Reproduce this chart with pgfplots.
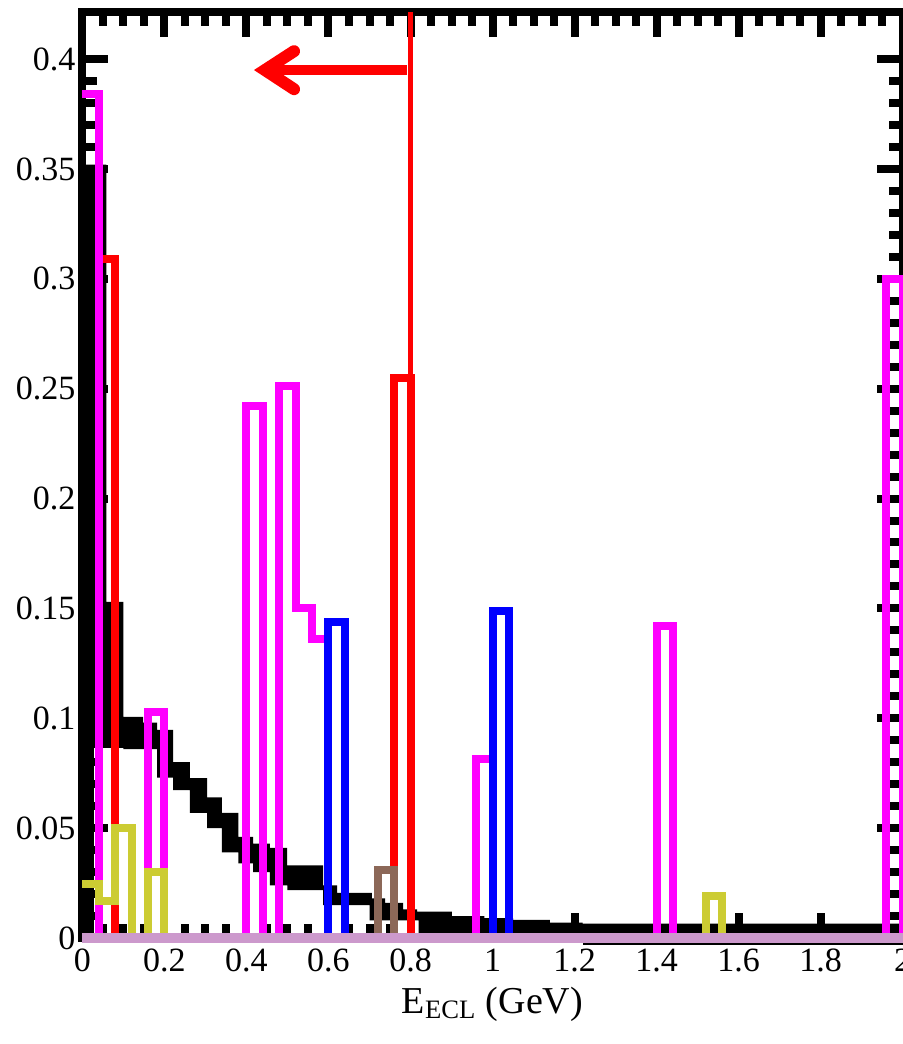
\documentclass[border=0pt]{standalone}
\usepackage{fontspec}
\setmainfont{Liberation Serif}
\usepackage{pgfplots}
\pgfplotsset{compat=1.18}
\definecolor{mag}{RGB}{255,0,255}
\definecolor{olivey}{RGB}{204,204,51}
\definecolor{brownh}{RGB}{140,104,88}
\definecolor{pinkbase}{RGB}{204,153,204}
\begin{document}
\begin{tikzpicture}
\begin{axis}[
  scale only axis, width=410pt, height=462.75pt,
  xmin=0, xmax=2, ymin=0, ymax=0.4212,
  clip=false,
  axis line style={line width=4pt},
  tick align=inside,
  major tick length=12.5pt, minor tick length=7pt,
  every tick/.style={black, line width=4pt},
  xtick={0,0.2,0.4,0.6,0.8,1,1.2,1.4,1.6,1.8,2},
  xticklabels={0,0.2,0.4,0.6,0.8,1,1.2,1.4,1.6,1.8,2},
  ytick={0,0.05,0.1,0.15,0.2,0.25,0.3,0.35,0.4},
  yticklabels={0,0.05,0.1,0.15,0.2,0.25,0.3,0.35,0.4},
  minor x tick num=3, minor y tick num=4,
  ticklabel style={font=\fontsize{17}{20}\selectfont},
  xticklabel style={yshift=-2pt},
  xlabel={E\textsubscript{ECL} (GeV)},
  xlabel style={font=\fontsize{19}{22}\selectfont, at={(axis description cs:0.5,0)}, anchor=base, yshift=-37.5pt},
]
% black band (histogram with thick outline)
\addplot[draw=none, fill=black] coordinates {
(0,0) (0,0.352) (0.058,0.352) (0.058,0.153) (0.100,0.153) (0.100,0.1006)
(0.148,0.1006) (0.148,0.098) (0.182,0.098) (0.182,0.0947) (0.221,0.0947) (0.221,0.080)
(0.262,0.080) (0.262,0.0728) (0.304,0.0728) (0.304,0.064) (0.340,0.064) (0.340,0.057)
(0.380,0.057) (0.380,0.046) (0.416,0.046) (0.416,0.043) (0.457,0.043) (0.457,0.041)
(0.499,0.041) (0.499,0.033) (0.587,0.033) (0.587,0.024) (0.621,0.024) (0.621,0.0205)
(0.706,0.0205) (0.706,0.018) (0.738,0.018) (0.738,0.016) (0.782,0.016) (0.782,0.013)
(0.816,0.013) (0.816,0.012) (0.901,0.012) (0.901,0.010) (0.98,0.010) (0.98,0.009)
(1.05,0.009) (1.05,0.0082) (1.14,0.0082) (1.14,0.007) (1.22,0.007) (1.22,0.0065)
(2,0.0065) (2,0)
(0.82,0) (0.82,0.008) (0.70,0.008) (0.70,0.015) (0.587,0.015) (0.587,0.0218)
(0.50,0.0218) (0.50,0.024) (0.457,0.024) (0.457,0.030) (0.416,0.030) (0.416,0.034)
(0.380,0.034) (0.380,0.039) (0.340,0.039) (0.340,0.050) (0.304,0.050) (0.304,0.057)
(0.262,0.057) (0.262,0.0673) (0.221,0.0673) (0.221,0.073) (0.182,0.073) (0.182,0.086)
(0.100,0.086) (0.100,0.0865) (0.028,0.0865) (0.028,0) (0,0)
};
% red
\addplot[red, line width=4pt] coordinates {
(0.04,0) (0.04,0.309) (0.08,0.309) (0.08,0) (0.76,0) (0.76,0.255) (0.80,0.255) (0.80,0)
};
% magenta
\addplot[mag, line width=4pt] coordinates {
(0,0.384) (0.04,0.384) (0.04,0) (0.16,0) (0.16,0.103) (0.20,0.103) (0.20,0)
(0.40,0) (0.40,0.242) (0.44,0.242) (0.44,0) (0.48,0) (0.48,0.251) (0.52,0.251)
(0.52,0.150) (0.56,0.150) (0.56,0.136) (0.60,0.136) (0.60,0)
(0.96,0) (0.96,0.0814) (1.00,0.0814) (1.00,0) (1.40,0) (1.40,0.142) (1.44,0.142) (1.44,0)
(1.96,0) (1.96,0.300) (2.00,0.300) (2.00,0)
};
% blue
\addplot[blue, line width=4pt] coordinates {
(0.60,0) (0.60,0.144) (0.64,0.144) (0.64,0) (1.00,0) (1.00,0.149) (1.04,0.149) (1.04,0)
};
% yellow
\addplot[olivey, line width=4pt] coordinates {
(0,0.0245) (0.04,0.0245) (0.04,0.017) (0.08,0.017) (0.08,0.050) (0.12,0.050) (0.12,0)
(0.16,0) (0.16,0.030) (0.20,0.030) (0.20,0) (1.52,0) (1.52,0.019) (1.56,0.019) (1.56,0)
};
% brown
\addplot[brownh, line width=4pt] coordinates {
(0.72,0) (0.72,0.031) (0.76,0.031) (0.76,0)
};
% cut line and arrow
\draw[red, line width=2.8pt] (axis cs:0.8,0) -- (axis cs:0.8,0.4212);
\draw[red, line width=5pt] (axis cs:0.7915,0.395) -- (axis cs:0.45,0.395);
\draw[red, line width=6pt, line cap=round] (axis cs:0.516,0.4036) -- (axis cs:0.445,0.395) -- (axis cs:0.516,0.3863);
% baseline
\draw[black, line width=1.2pt] (axis cs:1.22,-0.0025) -- (axis cs:2,-0.0025);
\draw[pinkbase, line width=5pt] (axis cs:0,0) -- (axis cs:2,0);
\coordinate (SW) at (axis cs:0,0);
\coordinate (NE) at (axis cs:2,0.4212);
\end{axis}
\pgfresetboundingbox
\path[use as bounding box] ([shift={(-41.25pt,-53pt)}]SW) rectangle ([shift={(0.25pt,6.25pt)}]NE);
\end{tikzpicture}
\end{document}
